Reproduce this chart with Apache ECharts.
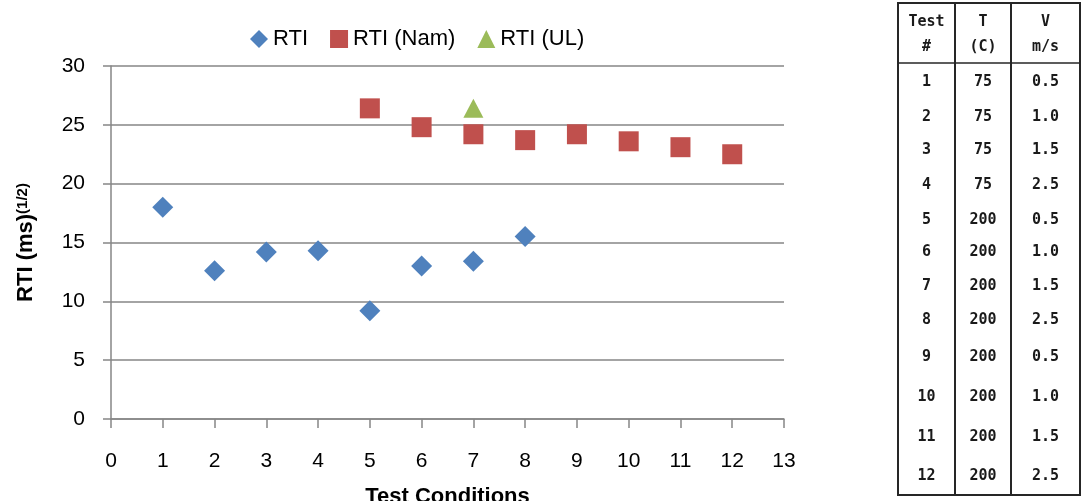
<!DOCTYPE html>
<html>
<head>
<meta charset="utf-8">
<style>
  html, body { margin: 0; padding: 0; background: #fff; }
  #chart { width: 1083px; height: 501px; }
</style>
<script src="https://cdn.jsdelivr.net/npm/echarts@6/dist/echarts.min.js"></script>
</head>
<body>
<div id="chart"></div>
<script>
// Test condition index (x) for each measured series
const rtiX = [1, 2, 3, 4, 5, 6, 7, 8];
const rtiY = [18.0, 12.6, 14.2, 14.3, 9.2, 13.0, 13.4, 15.5];

const rtiNamX = [5, 6, 7, 8, 9, 10, 11, 12];
const rtiNamY = [26.4, 24.8, 24.2, 23.7, 24.2, 23.6, 23.1, 22.5];

const rtiUlX = [7];
const rtiUlY = [26.4];

// Test matrix shown beside the plot
const testNo = ['1', '2', '3', '4', '5', '6', '7', '8', '9', '10', '11', '12'];
const tempC = ['75', '75', '75', '75', '200', '200', '200', '200', '200', '200', '200', '200'];
const velocity = ['0.5', '1.0', '1.5', '2.5', '0.5', '1.0', '1.5', '2.5', '0.5', '1.0', '1.5', '2.5'];
const tableHeader = [['Test', '#'], ['T', '(C)'], ['V', 'm/s']];

// Table layout
const tbl = {
  left: 898, right: 1080, top: 3, bottom: 495,
  cols: [898, 955, 1011, 1080],
  headerLine: 63,
  headerRows: [22, 47],
  rows: [82, 117, 150, 185, 220, 252, 286, 320, 357, 397, 437, 476]
};

const pair = (xs, ys) => xs.map((x, i) => [x, ys[i]]);

const FONT = '"Liberation Sans", Arial, sans-serif';
const MONO = '"DejaVu Sans Mono", "Liberation Mono", monospace';
const GRID_C = '#868686';

function tableGraphics() {
  const g = [];
  const lineStyle = { stroke: '#262626', lineWidth: 2 };
  g.push({ type: 'rect', shape: { x: tbl.left, y: tbl.top, width: tbl.right - tbl.left, height: tbl.bottom - tbl.top },
           style: { fill: 'none', stroke: '#262626', lineWidth: 2 } });
  for (let c = 1; c < tbl.cols.length - 1; c++) {
    g.push({ type: 'line', shape: { x1: tbl.cols[c], y1: tbl.top, x2: tbl.cols[c], y2: tbl.bottom }, style: lineStyle });
  }
  g.push({ type: 'line', shape: { x1: tbl.left, y1: tbl.headerLine, x2: tbl.right, y2: tbl.headerLine }, style: { stroke: '#262626', lineWidth: 1.5 } });
  const centers = [];
  for (let c = 0; c < tbl.cols.length - 1; c++) centers.push((tbl.cols[c] + tbl.cols[c + 1]) / 2);
  const txt = (s, x, y) => ({
    type: 'text', x: x, y: y,
    style: { text: s, font: 'bold 15px ' + MONO, fill: '#1a1a1a', align: 'center', verticalAlign: 'middle',
             textAlign: 'center', textVerticalAlign: 'middle' }
  });
  tableHeader.forEach((h, c) => {
    h.forEach((s, r) => g.push(txt(s, centers[c], tbl.headerRows[r])));
  });
  [testNo, tempC, velocity].forEach((col, c) => {
    col.forEach((s, r) => g.push(txt(s, centers[c], tbl.rows[r])));
  });
  return g;
}

const chart = echarts.init(document.getElementById('chart'), null, { renderer: 'canvas' });

chart.setOption({
  animation: false,
  backgroundColor: '#ffffff',
  textStyle: { fontFamily: FONT },
  legend: {
    left: 245, top: 23,
    itemWidth: 18, itemHeight: 18, itemGap: 22,
    textStyle: { fontSize: 22, color: '#000', fontFamily: FONT },
    data: [
      { name: 'RTI', icon: 'diamond' },
      { name: 'RTI (Nam)', icon: 'rect' },
      { name: 'RTI (UL)', icon: 'triangle' }
    ]
  },
  grid: { left: 111, right: 299, top: 66, bottom: 82, containLabel: false, outerBoundsMode: 'none' },
  xAxis: {
    type: 'value', min: 0, max: 13, interval: 1,
    axisLine: { show: true, onZero: false, lineStyle: { color: GRID_C, width: 1.5 } },
    axisTick: { show: true, inside: false, length: 9, lineStyle: { color: GRID_C, width: 1.5 } },
    axisLabel: { margin: 32, fontSize: 21, color: '#000', fontFamily: FONT },
    splitLine: { show: false },
    name: 'Test Conditions', nameLocation: 'middle', nameGap: 67,
    nameTextStyle: { fontSize: 22, fontWeight: 'bold', color: '#000', fontFamily: FONT }
  },
  yAxis: {
    type: 'value', min: 0, max: 30, interval: 5,
    axisLine: { show: true, lineStyle: { color: GRID_C, width: 1.5 } },
    axisTick: { show: true, inside: false, length: 8, lineStyle: { color: GRID_C, width: 1.5 } },
    axisLabel: { margin: 26, fontSize: 21, color: '#000', fontFamily: FONT },
    splitLine: { show: true, lineStyle: { color: GRID_C, width: 1.5 } },
    name: '{a|RTI (ms)}{b|(1/2)}', nameLocation: 'middle', nameRotate: 90, nameGap: 74,
    nameTextStyle: {
      color: '#000',
      rich: {
        a: { fontSize: 22, fontWeight: 'bold', fontFamily: FONT, color: '#000' },
        b: { fontSize: 15, fontWeight: 'bold', fontFamily: FONT, color: '#000', verticalAlign: 'top' }
      }
    }
  },
  series: [
    { name: 'RTI', type: 'scatter', symbol: 'diamond', symbolSize: 21,
      itemStyle: { color: '#4F81BD', opacity: 1 }, data: pair(rtiX, rtiY) },
    { name: 'RTI (Nam)', type: 'scatter', symbol: 'rect', symbolSize: 20,
      itemStyle: { color: '#C0504D', opacity: 1 }, data: pair(rtiNamX, rtiNamY) },
    { name: 'RTI (UL)', type: 'scatter', symbol: 'triangle', symbolSize: [20, 19],
      itemStyle: { color: '#9BBB59', opacity: 1 }, data: pair(rtiUlX, rtiUlY) }
  ],
  graphic: tableGraphics()
});
</script>
</body>
</html>
